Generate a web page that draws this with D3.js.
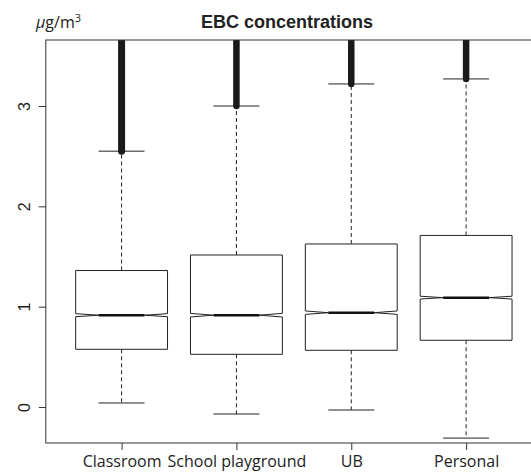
<!DOCTYPE html>
<html>
<head>
<meta charset="utf-8">
<script src="https://cdn.jsdelivr.net/npm/d3@7"></script>
<style>
  body { margin: 0; background: #fff; }
  svg { display: block; }
</style>
</head>
<body>
<div id="chart"></div>
<script>
const categories = ['Classroom', 'School playground', 'UB', 'Personal'];
const whiskerLow = [0.04, -0.07, -0.03, -0.31];
const q1 = [0.575, 0.525, 0.565, 0.665];
const median = [0.915, 0.915, 0.94, 1.09];
const q3 = [1.36, 1.515, 1.625, 1.71];
const whiskerHigh = [2.55, 3.0, 3.22, 3.27];
const notchHalf = [0.015, 0.018, 0.017, 0.014];
// outliers above the upper whisker run past the top of the plot
const outlierMin = [2.55, 3.0, 3.22, 3.27];
const outlierMax = [6, 6, 6, 6];
const yTicks = [0, 1, 2, 3];

const W = 531, H = 475;
const plot = { left: 45.8, right: 541.9, top: 40, bottom: 443 };

const svg = d3.select('#chart').append('svg')
  .attr('width', W).attr('height', H);

const x = d3.scaleLinear().domain([0.34, 4.66]).range([plot.left, plot.right]);
const y = d3.scaleLinear().domain([-0.359, 3.658]).range([plot.bottom, plot.top]);
const unit = x(1) - x(0);
const boxHalf = 0.4 * unit;
const capHalf = 0.2 * unit;
const stroke = '#222';

svg.append('clipPath').attr('id', 'clip')
  .append('rect')
  .attr('x', plot.left).attr('y', plot.top)
  .attr('width', plot.right - plot.left).attr('height', plot.bottom - plot.top);

const g = svg.append('g').attr('clip-path', 'url(#clip)');

categories.forEach((c, i) => {
  const cx = x(i + 1);

  // whiskers
  g.append('line')
    .attr('x1', cx).attr('x2', cx)
    .attr('y1', y(q3[i])).attr('y2', y(whiskerHigh[i]))
    .attr('stroke', stroke).attr('stroke-dasharray', '4,3');
  g.append('line')
    .attr('x1', cx).attr('x2', cx)
    .attr('y1', y(q1[i])).attr('y2', y(whiskerLow[i]))
    .attr('stroke', stroke).attr('stroke-dasharray', '4,3');

  // caps
  [whiskerLow[i], whiskerHigh[i]].forEach((v) => {
    g.append('line')
      .attr('x1', cx - capHalf).attr('x2', cx + capHalf)
      .attr('y1', y(v)).attr('y2', y(v))
      .attr('stroke', stroke);
  });

  // outliers (overlapping open circles form a solid band)
  g.append('line')
    .attr('x1', cx).attr('x2', cx)
    .attr('y1', y(outlierMin[i])).attr('y2', y(outlierMax[i]))
    .attr('stroke', '#1a1a1a')
    .attr('stroke-width', i === 0 ? 7 : 6.5)
    .attr('stroke-linecap', 'round');

  // notched box
  const nl = median[i] - notchHalf[i];
  const nh = median[i] + notchHalf[i];
  const pts = [
    [cx - boxHalf, y(q1[i])],
    [cx + boxHalf, y(q1[i])],
    [cx + boxHalf, y(nl)],
    [cx + boxHalf / 2, y(median[i])],
    [cx + boxHalf, y(nh)],
    [cx + boxHalf, y(q3[i])],
    [cx - boxHalf, y(q3[i])],
    [cx - boxHalf, y(nh)],
    [cx - boxHalf / 2, y(median[i])],
    [cx - boxHalf, y(nl)],
  ];
  g.append('path')
    .attr('d', d3.line()(pts) + 'Z')
    .attr('fill', '#fff')
    .attr('stroke', stroke)
    .attr('stroke-width', 1);

  // median
  g.append('line')
    .attr('x1', cx - boxHalf / 2).attr('x2', cx + boxHalf / 2)
    .attr('y1', y(median[i])).attr('y2', y(median[i]))
    .attr('stroke', '#111').attr('stroke-width', 2.5);
});

// frame
svg.append('rect')
  .attr('x', plot.left).attr('y', plot.top)
  .attr('width', plot.right - plot.left).attr('height', plot.bottom - plot.top)
  .attr('fill', 'none').attr('stroke', '#333');

// y axis
const yAxis = svg.append('g')
  .attr('transform', `translate(${plot.left},0)`)
  .call(d3.axisLeft(y).tickValues(yTicks).tickSize(7).tickFormat(d3.format('d')));
yAxis.select('.domain').remove();
yAxis.selectAll('line').attr('stroke', '#333');
yAxis.selectAll('text')
  .attr('font-family', 'Liberation Sans, Arial, sans-serif')
  .attr('font-size', 16)
  .attr('fill', '#222')
  .attr('text-anchor', 'middle')
  .attr('x', 0).attr('dy', 0)
  .attr('transform', 'translate(-21,0) rotate(-90)')
  .attr('dominant-baseline', 'central');

// x axis
const xAxis = svg.append('g')
  .attr('transform', `translate(0,${plot.bottom})`)
  .call(d3.axisBottom(x).tickValues([1, 2, 3, 4]).tickSize(7)
    .tickFormat((d) => categories[d - 1]));
xAxis.select('.domain').remove();
xAxis.selectAll('line').attr('stroke', '#333');
xAxis.selectAll('text')
  .attr('font-family', 'Open Sans, sans-serif')
  .attr('font-size', 16)
  .attr('fill', '#222')
  .attr('y', 13);

// title and unit
svg.append('text')
  .attr('x', 287).attr('y', 28)
  .attr('text-anchor', 'middle')
  .attr('font-family', 'Liberation Sans, Arial, sans-serif')
  .attr('font-weight', 'bold')
  .attr('font-size', 18)
  .attr('fill', '#222')
  .text('EBC concentrations');

const unitText = svg.append('text')
  .attr('x', 36).attr('y', 28)
  .attr('font-family', 'Open Sans, sans-serif')
  .attr('font-size', 16)
  .attr('fill', '#222');
unitText.append('tspan').attr('font-style', 'italic').text('μ');
unitText.append('tspan').text('g/m');
unitText.append('tspan').attr('font-size', 11).attr('dy', -6).text('3');
</script>
</body>
</html>
